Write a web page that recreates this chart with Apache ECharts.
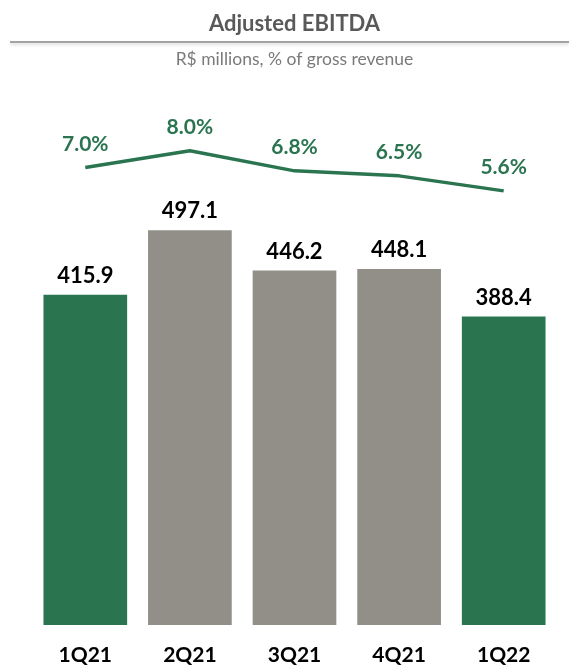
<!DOCTYPE html>
<html>
<head>
<meta charset="utf-8">
<script src="https://cdn.jsdelivr.net/npm/echarts@6/dist/echarts.min.js"></script>
<style>
  html, body { margin: 0; padding: 0; background: #fff; }
  #chart { width: 569px; height: 666px; }
</style>
</head>
<body>
<div id="chart"></div>
<script>
// Quarters shown on the x axis
const quarters = ['1Q21', '2Q21', '3Q21', '4Q21', '1Q22'];
// Adjusted EBITDA, R$ millions
const ebitda = [415.9, 497.1, 446.2, 448.1, 388.4];
// Adjusted EBITDA margin, % of gross revenue
const margin = [7.0, 8.0, 6.8, 6.5, 5.6];
// Highlighted quarters (first quarter of each year)
const highlighted = ['1Q21', '1Q22'];

const GREEN = '#2a7550';
const GREY = '#918f87';

const chart = echarts.init(document.getElementById('chart'), null, { renderer: 'canvas' });

const fontFamily = 'Lato, "Open Sans", sans-serif';
const GRID_LEFT = 33, GRID_RIGHT = 13;
const centerX = GRID_LEFT + (569 - GRID_LEFT - GRID_RIGHT) / 2;

chart.setOption({
  animation: false,
  graphic: [
    {
      type: 'text',
      x: centerX, y: 24,
      style: {
        text: 'Adjusted EBITDA',
        align: 'center', verticalAlign: 'middle',
        font: 'bold 22px ' + fontFamily,
        fill: '#595959'
      }
    },
    {
      type: 'line',
      shape: { x1: 10, y1: 42, x2: 569, y2: 42 },
      style: { stroke: '#a3a3a3', lineWidth: 2, shadowColor: 'rgba(0,0,0,0.15)', shadowBlur: 3, shadowOffsetY: 2 }
    },
    {
      type: 'text',
      x: centerX, y: 59,
      style: {
        text: 'R$ millions, % of gross revenue',
        align: 'center', verticalAlign: 'middle',
        font: '17.5px ' + fontFamily,
        fill: '#7a7a7a'
      }
    }
  ],
  grid: { left: GRID_LEFT, right: GRID_RIGHT, top: 69, bottom: 40 },
  xAxis: {
    type: 'category',
    data: quarters,
    axisLine: { show: false },
    axisTick: { show: false },
    axisLabel: { margin: 20, fontFamily, fontSize: 21, fontWeight: 'bold', color: '#000' }
  },
  yAxis: [
    { type: 'value', min: 0, max: 700, show: false, splitLine: { show: false } },
    { type: 'value', min: -20.4, max: 12.9, show: false, splitLine: { show: false } }
  ],
  series: [
    {
      type: 'bar',
      yAxisIndex: 0,
      barWidth: '80%',
      data: ebitda.map((v, i) => ({
        value: v,
        itemStyle: { color: highlighted.includes(quarters[i]) ? GREEN : GREY }
      })),
      label: {
        show: true,
        position: 'top',
        distance: 8,
        fontFamily,
        fontSize: 22,
        fontWeight: 'bold',
        color: '#000',
        formatter: p => p.value.toFixed(1)
      }
    },
    {
      type: 'line',
      yAxisIndex: 1,
      data: margin,
      symbol: 'circle',
      symbolSize: 0,
      showSymbol: true,
      itemStyle: { color: 'rgba(0,0,0,0)' },
      lineStyle: { color: GREEN, width: 3.5 },
      label: {
        show: true,
        position: 'top',
        distance: 13,
        fontFamily,
        fontSize: 21,
        fontWeight: 'bold',
        color: GREEN,
        formatter: p => p.value.toFixed(1) + '%'
      }
    }
  ]
});
</script>
</body>
</html>
